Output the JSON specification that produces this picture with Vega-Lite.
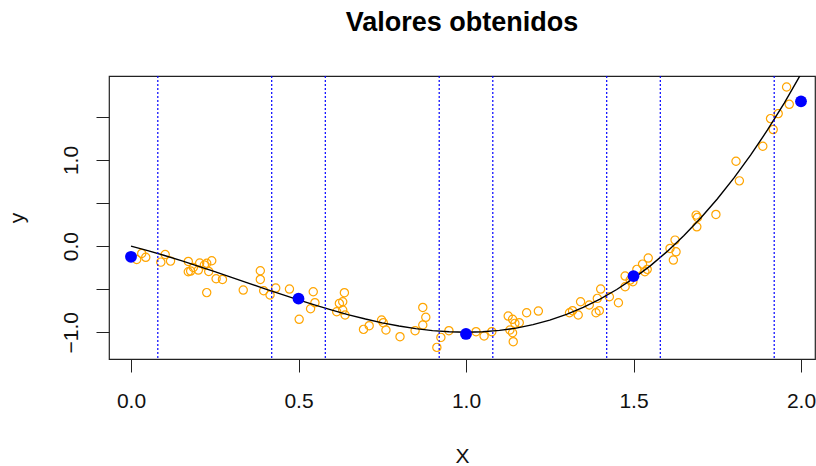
{
  "$schema": "https://vega.github.io/schema/vega-lite/v6.json",
  "width": 706,
  "height": 283,
  "autosize": {"type": "none"},
  "padding": {"left": 109, "top": 76, "right": 1, "bottom": 107},
  "background": "white",
  "config": {
    "font": "Liberation Sans",
    "view": {"stroke": "#222222", "strokeWidth": 1.2}
  },
  "title": {
    "text": "Valores obtenidos",
    "font": "Liberation Sans",
    "fontSize": 27,
    "fontWeight": "bold",
    "color": "#000000",
    "anchor": "middle",
    "frame": "group",
    "baseline": "alphabetic",
    "offset": 17
  },
  "datasets": {
    "muestras": [
      {"x": 0.017, "y": -0.155}, {"x": 0.032, "y": -0.085}, {"x": 0.044, "y": -0.13},
      {"x": 0.089, "y": -0.186}, {"x": 0.102, "y": -0.097}, {"x": 0.118, "y": -0.174},
      {"x": 0.171, "y": -0.178}, {"x": 0.171, "y": -0.298}, {"x": 0.178, "y": -0.29},
      {"x": 0.186, "y": -0.248}, {"x": 0.201, "y": -0.278}, {"x": 0.205, "y": -0.197},
      {"x": 0.219, "y": -0.22}, {"x": 0.226, "y": -0.2}, {"x": 0.232, "y": -0.294},
      {"x": 0.241, "y": -0.17}, {"x": 0.226, "y": -0.54}, {"x": 0.254, "y": -0.379},
      {"x": 0.273, "y": -0.387}, {"x": 0.335, "y": -0.51}, {"x": 0.386, "y": -0.286},
      {"x": 0.386, "y": -0.387}, {"x": 0.396, "y": -0.518}, {"x": 0.415, "y": -0.568},
      {"x": 0.432, "y": -0.487}, {"x": 0.473, "y": -0.499}, {"x": 0.502, "y": -0.85},
      {"x": 0.536, "y": -0.727}, {"x": 0.544, "y": -0.53}, {"x": 0.549, "y": -0.657},
      {"x": 0.614, "y": -0.762}, {"x": 0.622, "y": -0.665}, {"x": 0.632, "y": -0.646},
      {"x": 0.637, "y": -0.541}, {"x": 0.632, "y": -0.742}, {"x": 0.639, "y": -0.8},
      {"x": 0.694, "y": -0.967}, {"x": 0.711, "y": -0.924}, {"x": 0.748, "y": -0.858},
      {"x": 0.753, "y": -0.889}, {"x": 0.761, "y": -0.974}, {"x": 0.803, "y": -1.052},
      {"x": 0.848, "y": -0.982}, {"x": 0.871, "y": -0.712}, {"x": 0.88, "y": -0.827},
      {"x": 0.871, "y": -0.916}, {"x": 0.913, "y": -1.176}, {"x": 0.925, "y": -1.06},
      {"x": 0.949, "y": -0.982}, {"x": 1.03, "y": -0.994}, {"x": 1.054, "y": -1.044},
      {"x": 1.077, "y": -0.994}, {"x": 1.126, "y": -0.812}, {"x": 1.139, "y": -0.85},
      {"x": 1.146, "y": -0.897}, {"x": 1.159, "y": -0.889}, {"x": 1.131, "y": -0.974},
      {"x": 1.139, "y": -1.006}, {"x": 1.141, "y": -1.11}, {"x": 1.181, "y": -0.774},
      {"x": 1.216, "y": -0.754},
      {"x": 1.309, "y": -0.774}, {"x": 1.318, "y": -0.75}, {"x": 1.335, "y": -0.8},
      {"x": 1.342, "y": -0.646}, {"x": 1.368, "y": -0.684}, {"x": 1.388, "y": -0.774},
      {"x": 1.398, "y": -0.75}, {"x": 1.392, "y": -0.607}, {"x": 1.402, "y": -0.499},
      {"x": 1.428, "y": -0.588}, {"x": 1.455, "y": -0.658}, {"x": 1.475, "y": -0.348},
      {"x": 1.475, "y": -0.472}, {"x": 1.49, "y": -0.394}, {"x": 1.498, "y": -0.414},
      {"x": 1.51, "y": -0.27}, {"x": 1.527, "y": -0.209}, {"x": 1.534, "y": -0.298},
      {"x": 1.541, "y": -0.27}, {"x": 1.544, "y": -0.139}, {"x": 1.609, "y": -0.027},
      {"x": 1.619, "y": -0.162}, {"x": 1.624, "y": 0.07}, {"x": 1.627, "y": -0.066},
      {"x": 1.687, "y": 0.36}, {"x": 1.689, "y": 0.224}, {"x": 1.691, "y": 0.333},
      {"x": 1.746, "y": 0.368}, {"x": 1.806, "y": 0.986}, {"x": 1.816, "y": 0.758},
      {"x": 1.886, "y": 1.16}, {"x": 1.909, "y": 1.481}, {"x": 1.917, "y": 1.354},
      {"x": 1.932, "y": 1.539}, {"x": 1.957, "y": 1.848}, {"x": 1.965, "y": 1.647}
    ],
    "curva": [
      {"x": 0.0, "y": 0.0}, {"x": 0.05, "y": -0.052}, {"x": 0.1, "y": -0.109},
      {"x": 0.15, "y": -0.169}, {"x": 0.2, "y": -0.232}, {"x": 0.25, "y": -0.297},
      {"x": 0.3, "y": -0.363}, {"x": 0.35, "y": -0.43}, {"x": 0.4, "y": -0.496},
      {"x": 0.45, "y": -0.561}, {"x": 0.5, "y": -0.625}, {"x": 0.55, "y": -0.686},
      {"x": 0.6, "y": -0.744}, {"x": 0.65, "y": -0.798}, {"x": 0.7, "y": -0.847},
      {"x": 0.75, "y": -0.891}, {"x": 0.8, "y": -0.928}, {"x": 0.85, "y": -0.958},
      {"x": 0.9, "y": -0.981}, {"x": 0.95, "y": -0.995}, {"x": 1.0, "y": -1.0},
      {"x": 1.05, "y": -0.995}, {"x": 1.1, "y": -0.979}, {"x": 1.15, "y": -0.952},
      {"x": 1.2, "y": -0.912}, {"x": 1.25, "y": -0.859}, {"x": 1.3, "y": -0.793},
      {"x": 1.35, "y": -0.712}, {"x": 1.4, "y": -0.616}, {"x": 1.45, "y": -0.504},
      {"x": 1.5, "y": -0.375}, {"x": 1.55, "y": -0.229}, {"x": 1.6, "y": -0.064},
      {"x": 1.65, "y": 0.12}, {"x": 1.7, "y": 0.323}, {"x": 1.75, "y": 0.547},
      {"x": 1.8, "y": 0.792}, {"x": 1.85, "y": 1.059}, {"x": 1.9, "y": 1.349},
      {"x": 1.95, "y": 1.662}, {"x": 2.0, "y": 2.0}
    ],
    "cortes": [
      {"x": 0.08}, {"x": 0.42}, {"x": 0.58}, {"x": 0.92},
      {"x": 1.08}, {"x": 1.42}, {"x": 1.58}, {"x": 1.92}
    ],
    "medias": [
      {"x": 0.0, "y": -0.124}, {"x": 0.5, "y": -0.61}, {"x": 1.0, "y": -1.02},
      {"x": 1.5, "y": -0.348}, {"x": 2.0, "y": 1.682}
    ]
  },
  "layer": [
    {
      "data": {"name": "muestras"},
      "mark": {"type": "point", "shape": "circle", "filled": false, "color": "#FFA500", "size": 68, "strokeWidth": 1.2, "opacity": 1},
      "encoding": {
        "x": {
          "field": "x", "type": "quantitative",
          "scale": {"domain": [-0.0657, 2.0418], "nice": false, "zero": false},
          "axis": {
            "title": "X",
            "values": [0, 0.5, 1, 1.5, 2],
            "format": ".1f",
            "domain": false, "grid": false,
            "tickSize": 13, "tickColor": "#222222", "tickWidth": 1,
            "labelFont": "Liberation Sans", "labelFontSize": 21, "labelColor": "#111111",
            "labelPadding": 18, "labelBaseline": "top", "labelFlush": false, "labelOverlap": false,
            "titleFont": "Liberation Sans", "titleFontSize": 21, "titleFontWeight": "normal", "titleColor": "#111111",
            "titleBaseline": "alphabetic", "titleX": 353, "titleY": 103
          }
        },
        "y": {
          "field": "y", "type": "quantitative",
          "scale": {"domain": [-1.311, 1.976], "nice": false, "zero": false},
          "axis": {
            "title": "y",
            "values": [-1, -0.5, 0, 0.5, 1, 1.5],
            "labelExpr": "datum.value % 1 == 0 ? format(datum.value, '.1f') : ''",
            "domain": false, "grid": false,
            "tickSize": 13, "tickColor": "#222222", "tickWidth": 1,
            "labelFont": "Liberation Sans", "labelFontSize": 21, "labelColor": "#111111",
            "labelAngle": -90, "labelAlign": "center", "labelBaseline": "alphabetic",
            "labelPadding": 19, "labelFlush": false, "labelOverlap": false,
            "titleFont": "Liberation Sans", "titleFontSize": 21, "titleFontWeight": "normal", "titleColor": "#111111",
            "titleAngle": -90, "titleAlign": "center", "titleBaseline": "alphabetic",
            "titleX": -85.6, "titleY": 141.5
          }
        }
      }
    },
    {
      "data": {"name": "curva"},
      "mark": {"type": "line", "color": "#000000", "strokeWidth": 1.4, "clip": true},
      "encoding": {
        "x": {"field": "x", "type": "quantitative"},
        "y": {"field": "y", "type": "quantitative"}
      }
    },
    {
      "data": {"name": "cortes"},
      "mark": {"type": "rule", "color": "#0000FF", "strokeDash": [2, 2], "strokeWidth": 1.2},
      "encoding": {
        "x": {"field": "x", "type": "quantitative"}
      }
    },
    {
      "data": {"name": "medias"},
      "mark": {"type": "point", "shape": "circle", "filled": true, "color": "#0000FF", "size": 140, "opacity": 1},
      "encoding": {
        "x": {"field": "x", "type": "quantitative"},
        "y": {"field": "y", "type": "quantitative"}
      }
    }
  ]
}
